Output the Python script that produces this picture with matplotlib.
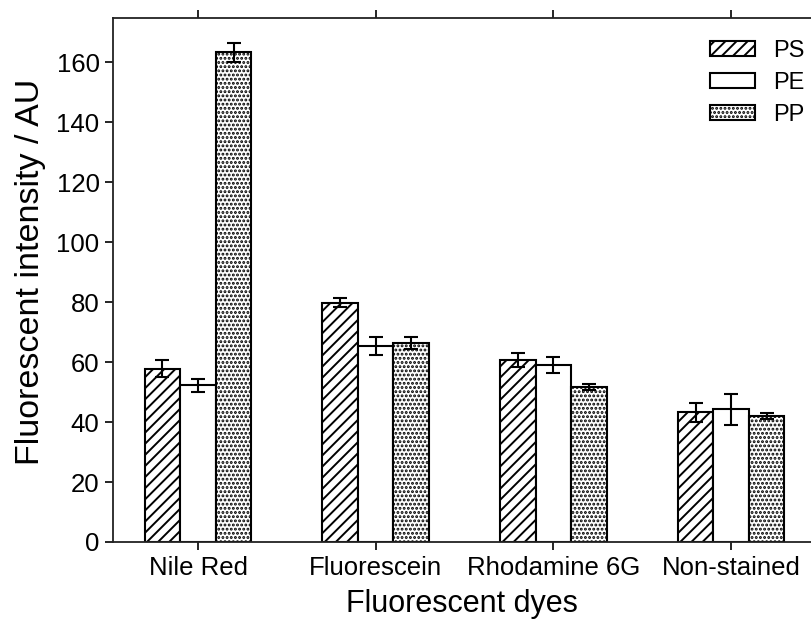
import matplotlib
matplotlib.use("Agg")
import matplotlib.pyplot as plt
import numpy as np

plt.rcParams['font.family'] = ['Liberation Sans', 'DejaVu Sans']
plt.rcParams['hatch.linewidth'] = 1.4

categories = ["Nile Red", "Fluorescein", "Rhodamine 6G", "Non-stained"]
series = ["PS", "PE", "PP"]
ps_vals = [57.8, 79.8, 60.8, 43.2]
ps_err = [2.8, 1.4, 2.3, 3.1]
pe_vals = [52.3, 65.3, 59.1, 44.2]
pe_err = [2.2, 3.0, 2.7, 5.2]
pp_vals = [163.2, 66.3, 51.7, 42.0]
pp_err = [3.2, 2.0, 1.1, 0.9]

values = [ps_vals, pe_vals, pp_vals]
errors = [ps_err, pe_err, pp_err]
hatches = ['///', '', '....']

fig = plt.figure(figsize=(8.11, 6.19), dpi=100)
ax = fig.add_axes([0.139, 0.1244, 0.861, 0.8466])

x = np.arange(len(categories))
w = 0.2
for i, (vals, errs, h, lab) in enumerate(zip(values, errors, hatches, series)):
    ax.bar(x + (i - 1) * w, vals, w, facecolor='white', edgecolor='black',
           linewidth=1.5, hatch=h, label=lab,
           yerr=errs, error_kw=dict(ecolor='black', elinewidth=1.5,
                                    capsize=5, capthick=1.5))

ax.set_xlim(-0.48, 3.45)
ax.set_ylim(0, 174.7)
ax.set_xticks(x)
ax.set_xticklabels(categories, fontsize=18.5)
ax.set_yticks(np.arange(0, 161, 20))
ax.tick_params(axis='y', labelsize=18.5, direction='out', length=6, width=1.2)
ax.tick_params(axis='x', direction='out', length=6, width=1.2, top=True,
               labeltop=False, pad=4)
for s in ['left', 'bottom', 'top']:
    ax.spines[s].set_linewidth(1.3)
    ax.spines[s].set_color('#222222')
ax.spines['right'].set_visible(False)

ax_center = (ax.get_position().x0 + ax.get_position().x1) / 2
fig.text(ax_center, 0.0115, "Fluorescent dyes", fontsize=22,
         ha='center', va='baseline')
ax.set_ylabel("Fluorescent intensity / AU", fontsize=24.5)
ax.yaxis.set_label_coords(-0.096, 0.516)

leg = ax.legend(loc='upper right', frameon=False, fontsize=17,
                handlelength=1.9, handleheight=0.6, labelspacing=0.42,
                handletextpad=0.76, borderaxespad=0.0, borderpad=0.4,
                bbox_to_anchor=(1.004, 0.976))

fig.savefig("out.png", dpi=100)
